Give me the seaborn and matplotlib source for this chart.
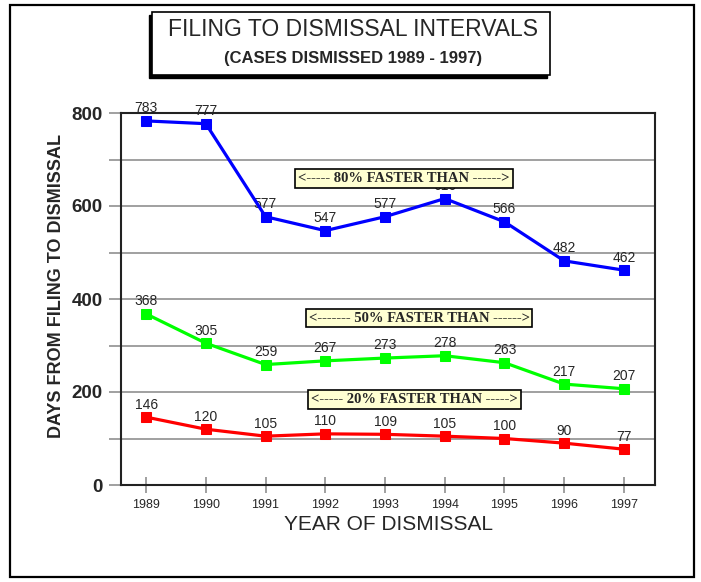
import matplotlib
matplotlib.use("Agg")
import matplotlib.pyplot as plt
import matplotlib.patches as mpatches
import matplotlib.ticker as ticker
import seaborn as sns
import pandas as pd

years = [1989, 1990, 1991, 1992, 1993, 1994, 1995, 1996, 1997]
pct80 = [783, 777, 577, 547, 577, 616, 566, 482, 462]
pct50 = [368, 305, 259, 267, 273, 278, 263, 217, 207]
pct20 = [146, 120, 105, 110, 109, 105, 100, 90, 77]
series_colors = ["#0000ff", "#00ff00", "#ff0000"]
box_texts = ["<----- 80% FASTER THAN ------>",
             "<------- 50% FASTER THAN ------>",
             "<----- 20% FASTER THAN ----->"]

sns.set_style("white")
plt.rcParams["font.family"] = ["Liberation Sans", "DejaVu Sans"]

W, H = 701, 582
fig = plt.figure(figsize=(W / 100, H / 100), dpi=100)
ax = fig.add_axes([121 / W, 1 - 485 / H, (655 - 121) / W, (485 - 113) / H])


def fx(px):
    return px / W


def fy(py):
    return 1 - py / H


# outer frame
fig.patches.append(mpatches.Rectangle((fx(10), fy(577)), fx(684), 572 / H, fill=False,
                                      ec="black", lw=1.6, transform=fig.transFigure))
# title box with shadow
fig.patches.append(mpatches.Rectangle((fx(149), fy(78)), fx(398), 63 / H, fc="black",
                                      ec="black", lw=1, transform=fig.transFigure))
fig.patches.append(mpatches.Rectangle((fx(152), fy(75)), fx(398), 63 / H, fc="white",
                                      ec="black", lw=1.2, transform=fig.transFigure))
fig.text(fx(353), fy(29), "FILING TO DISMISSAL INTERVALS", ha="center", va="center",
         fontsize=16.5)
fig.text(fx(353), fy(59), "(CASES DISMISSED 1989 - 1997)", ha="center", va="center",
         fontsize=12, fontweight="bold")

for i in range(100, 800, 100):
    ax.axhline(i, color="#a0a0a0", lw=1.4, zorder=1)

for vals, col in zip([pct80, pct50, pct20], series_colors):
    df = pd.DataFrame({"year": years, "days": vals})
    sns.lineplot(data=df, x="year", y="days", ax=ax, color=col, lw=2.3, marker="s",
                 markersize=7.5, markeredgecolor=col, zorder=3)
    for x, y in zip(years, vals):
        ax.annotate(str(y), (x, y), xytext=(0, 4), textcoords="offset points",
                    ha="center", va="bottom", fontsize=10, zorder=2)

box_pos = [(1993.32, 660), (1993.57, 359), (1993.49, 184)]
for (bx, by), t in zip(box_pos, box_texts):
    ax.text(bx, by, t, ha="center", va="center", fontsize=10.5, fontweight="bold",
            family="Liberation Serif", zorder=6,
            bbox=dict(boxstyle="square,pad=0.2", fc="#ffffd2", ec="black", lw=1.2))

ax.set_xlim(1988.58, 1997.52)
ax.set_ylim(0, 800)
ax.set_xticks(years)
ax.set_xticklabels([str(y) for y in years], fontsize=9)
ax.yaxis.set_major_locator(ticker.MultipleLocator(200))
ax.yaxis.set_minor_locator(ticker.MultipleLocator(100))
ax.tick_params(axis="y", which="both", left=True, length=9, width=1.2, color="#909090",
               labelsize=13.5, pad=4)
for lab in ax.get_yticklabels():
    lab.set_fontweight("bold")
ax.tick_params(axis="x", bottom=True, direction="inout", length=12, width=1.2,
               color="#909090", pad=4)
for s in ax.spines.values():
    s.set_color("#222222")
    s.set_linewidth(1.5)

ax.set_xlabel("YEAR OF DISMISSAL", fontsize=15, labelpad=3)
ax.set_ylabel("DAYS FROM FILING TO DISMISSAL", fontsize=13, fontweight="bold")
ax.yaxis.set_label_coords(-0.105, 0.535)

fig.savefig("out.png", dpi=100)
